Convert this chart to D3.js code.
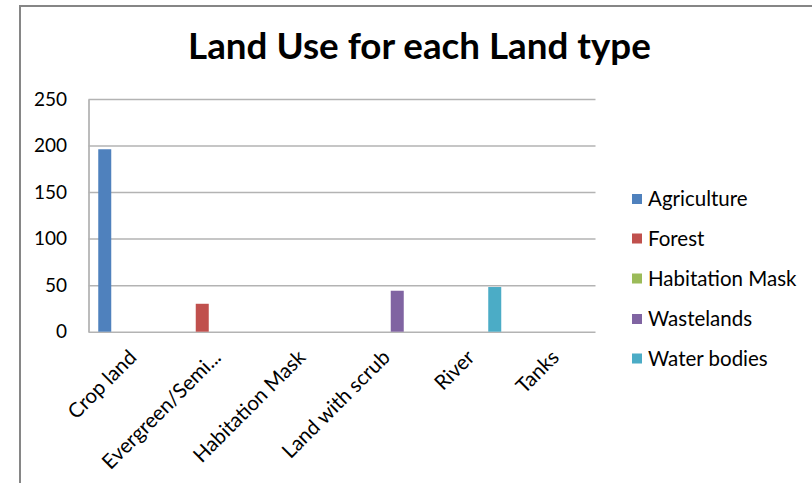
<!DOCTYPE html>
<html>
<head>
<meta charset="utf-8">
<script src="https://cdn.jsdelivr.net/npm/d3@7"></script>
<style>
  html, body { margin: 0; padding: 0; background: #fff; }
  svg { display: block; }
</style>
</head>
<body>
<svg id="chart" width="812" height="483"></svg>
<script>
const title = "Land Use for each Land type";
const categories = ["Crop land", "Evergreen/Semi...", "Habitation Mask", "Land with scrub", "River", "Tanks"];
const seriesNames = ["Agriculture", "Forest", "Habitation Mask", "Wastelands", "Water bodies"];
const agriculture    = [196, 0, 0, 0, 0, 0];
const forest         = [0, 30, 0, 0, 0, 0];
const habitationMask = [0, 0, 0, 0, 0, 0];
const wastelands     = [0, 0, 0, 44, 0, 0];
const waterBodies    = [0, 0, 0, 0, 48, 0];
const seriesValues = [agriculture, forest, habitationMask, wastelands, waterBodies];
const colors = ["#4F81BD", "#C0504D", "#9BBB59", "#8064A2", "#4BACC6"];
const yTicks = [0, 50, 100, 150, 200, 250];

const FONT = "Lato, 'Open Sans', sans-serif";
const svg = d3.select("#chart");

svg.append("rect").attr("width", 812).attr("height", 483).attr("fill", "#fff");
// chart frame (partially visible)
svg.append("path")
  .attr("d", "M20,483 L20,6 L812,6")
  .attr("fill", "none").attr("stroke", "#868686").attr("stroke-width", 2);

const plot = { left: 88.5, right: 595.5, top: 99, bottom: 331.7 };

const x0 = d3.scaleBand().domain(categories).range([plot.left, plot.right]).padding(0);
const x1 = d3.scaleBand().domain(seriesNames).range([0, x0.bandwidth()])
  .paddingInner(0).paddingOuter(0.75);
const y = d3.scaleLinear().domain([0, 250]).range([plot.bottom, plot.top]);

// gridlines + y labels
const yAxis = d3.axisLeft(y).tickValues(yTicks).tickSizeInner(-(plot.right - plot.left))
  .tickSizeOuter(0).tickPadding(21.5);
const gy = svg.append("g").attr("transform", `translate(${plot.left},0)`).call(yAxis);
gy.select(".domain").attr("stroke", "#a6a6a6").attr("stroke-width", 1.5);
gy.selectAll(".tick line").attr("stroke", "#b3b3b3").attr("stroke-width", 1.5);
gy.selectAll(".tick text").attr("font-family", FONT).attr("font-size", 19).attr("fill", "#000");

// bars
const groups = svg.append("g").selectAll("g")
  .data(seriesNames)
  .join("g")
  .attr("fill", (d, i) => colors[i]);
groups.selectAll("rect")
  .data((s, si) => categories.map((c, ci) => ({ c, s, v: seriesValues[si][ci] })))
  .join("rect")
  .attr("x", d => x0(d.c) + x1(d.s))
  .attr("width", x1.bandwidth())
  .attr("y", d => y(d.v))
  .attr("height", d => y(0) - y(d.v));

// x axis labels
const xAxis = d3.axisBottom(x0).tickSize(0).tickPadding(0);
const gx = svg.append("g").attr("transform", `translate(0,${plot.bottom})`).call(xAxis);
gx.select(".domain").remove();
gx.selectAll(".tick text")
  .attr("font-family", FONT).attr("font-size", 20.5).attr("fill", "#000")
  .attr("text-anchor", "end")
  .attr("dy", null).attr("y", null)
  .attr("transform", "translate(7,27) rotate(-45)");

// title
const t = svg.append("text")
  .attr("x", 419.5).attr("y", 59)
  .attr("text-anchor", "middle")
  .attr("font-family", FONT).attr("font-weight", "bold").attr("font-size", 32)
  .attr("fill", "#000").text(title);
const tw = t.node().getComputedTextLength();
t.attr("font-size", 32 * 463 / tw);

// legend
const legend = svg.append("g");
const legendY = [199, 238.5, 278.5, 319, 358.5];
seriesNames.forEach((s, i) => {
  legend.append("rect").attr("x", 632).attr("y", legendY[i] - 5).attr("width", 10).attr("height", 10)
    .attr("fill", colors[i]);
  legend.append("text").attr("x", 648).attr("y", legendY[i]).attr("dy", "0.35em")
    .attr("font-family", FONT).attr("font-size", 20.5).attr("fill", "#000").text(s);
});
</script>
</body>
</html>
